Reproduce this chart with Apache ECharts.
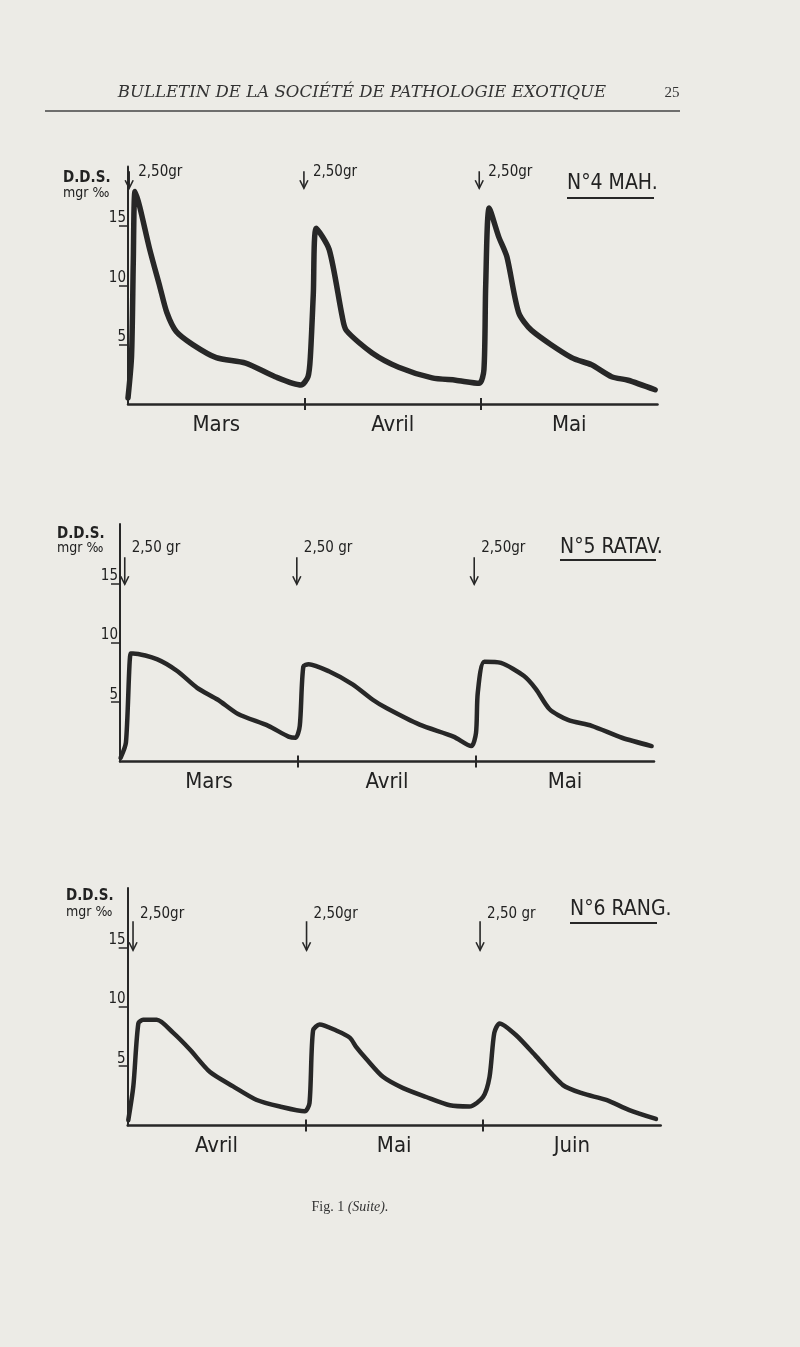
<!DOCTYPE html>
<html>
<head>
<meta charset="utf-8">
<script src="https://cdn.jsdelivr.net/npm/echarts@6/dist/echarts.min.js"></script>
<style>
html,body{margin:0;padding:0;background:#ecebe6;}
#c{width:800px;height:1347px;}
</style>
</head>
<body>
<div id="c"></div>
<script>
// ---------- DATA ----------
const months1 = ['Mars', 'Avril', 'Mai'];
const months2 = ['Mars', 'Avril', 'Mai'];
const months3 = ['Avril', 'Mai', 'Juin'];
const yTicks = [5, 10, 15];
const monthBounds = [30, 60];
const monthCentres = [15, 45, 75];

// chart 1: N°4 MAH. (day, D.D.S. mgr ‰)
const days1 = [0, 0.6, 0.9, 1.2, 2, 3.7, 5.4, 6.6, 8.2, 11, 15, 20, 25, 29.4, 30.6, 31.0, 31.5, 32.0, 34.2, 36.4, 37.1, 41.5, 46, 51.7, 55.7, 59.7, 60.5, 60.8, 61.4, 63, 64.4, 66.4, 68.6, 75.4, 78.8, 82.2, 85, 89.6];
const dds1  = [0.5, 4, 12, 17.9, 16.6, 13, 9.9, 7.7, 6.1, 5.0, 3.9, 3.45, 2.3, 1.6, 2.3, 4, 9.3, 14.8, 13, 7.4, 6.2, 4.3, 3.1, 2.2, 2.0, 1.75, 2.9, 10, 16.5, 14.1, 12.4, 7.7, 6.2, 3.9, 3.3, 2.3, 2.0, 1.2];
// chart 2: N°5 RATAV.
const days2 = [0.1, 1, 1.8, 2.2, 6.3, 9.7, 13, 16.5, 19.9, 25, 28.4, 29.6, 30.3, 30.9, 31.8, 35.2, 39.2, 42.6, 44.9, 50.5, 56.2, 59.2, 60.0, 60.3, 61.4, 64.2, 68.1, 70.1, 72.4, 75.5, 79.5, 84.6, 89.6];
const dds2  = [0.3, 1.6, 9.1, 9.1, 8.6, 7.6, 6.2, 5.2, 4.0, 3.0, 2.1, 2.0, 3.0, 8.0, 8.2, 7.6, 6.5, 5.2, 4.5, 3.1, 2.1, 1.3, 2.4, 5.8, 8.4, 8.3, 7.2, 6.1, 4.4, 3.5, 3.0, 2.0, 1.3];
// chart 3: N°6 RANG.
const days3 = [0.1, 0.95, 1.8, 2.6, 4.9, 7.7, 10.5, 13.9, 17.8, 21.8, 25.7, 29.9, 30.7, 31.3, 32.4, 35.2, 37.5, 38.6, 40.3, 43.1, 46.5, 50.4, 54.4, 57.7, 60, 61.1, 61.9, 62.8, 65.6, 69, 73.5, 76.8, 80.8, 84.7, 89.2];
const dds3  = [0.45, 3.3, 8.6, 8.9, 8.9, 7.8, 6.4, 4.5, 3.3, 2.15, 1.6, 1.2, 1.9, 8.0, 8.5, 8.0, 7.4, 6.6, 5.6, 4.1, 3.15, 2.4, 1.7, 1.6, 2.4, 4.1, 7.8, 8.6, 7.6, 5.8, 3.4, 2.7, 2.15, 1.3, 0.55];

// doses (arrows)
const doseDays1 = [0.2, 29.9, 59.7];
const doseDays2 = [0.8, 29.8, 59.7];
const doseDays3 = [0.9, 30.2, 59.5];
const doseText1 = ['2,50gr', '2,50gr', '2,50gr'];
const doseText2 = ['2,50 gr', '2,50 gr', '2,50gr'];
const doseText3 = ['2,50gr', '2,50gr', '2,50 gr'];

// ---------- STYLE ----------
const INK = '#272727';
const HAND = "'Liberation Sans Narrow','DejaVu Sans Condensed','Roboto Condensed',sans-serif";

const grids = [
  {left: 128, top: 166.5, width: 529.5, height: 237.5},
  {left: 120, top: 524, width: 534, height: 237.5},
  {left: 127.7, top: 888, width: 533, height: 237.5}
];
const arrowCfg = [
  {top: 19.6, len: 17, dx: 9, dy: 1},
  {top: 17.2, len: 27, dx: 7, dy: -9},
  {top: 17.2, len: 29, dx: 7, dy: -7}
];

function pairs(xs, ys) { return xs.map((x, i) => [x, ys[i]]); }

const monthSets = [months1, months2, months3];
const doseSets = [[doseDays1, doseText1], [doseDays2, doseText2], [doseDays3, doseText3]];
const lineSets = [pairs(days1, dds1), pairs(days2, dds2), pairs(days3, dds3)];
const lineWidths = [5.5, 4.5, 4.5];

const xAxes = [], yAxes = [], series = [];
for (let g = 0; g < 3; g++) {
  const ms = monthSets[g];
  xAxes.push({
    type: 'value', gridIndex: g, min: 0, max: 90, position: 'bottom',
    axisLine: {show: true, lineStyle: {color: INK, width: 2.5}},
    axisTick: {show: true, customValues: monthBounds, length: 6, lineStyle: {color: INK, width: 2}},
    axisLabel: {show: true, customValues: monthCentres, margin: 10,
      formatter: v => ms[monthCentres.indexOf(v)] || '',
      color: '#222', fontFamily: HAND, fontSize: 22},
    splitLine: {show: false}
  });
  xAxes.push({
    type: 'value', gridIndex: g, min: 0, max: 90, position: 'bottom',
    axisLine: {show: false},
    axisTick: {show: true, inside: true, customValues: monthBounds, length: 6, lineStyle: {color: INK, width: 2}},
    axisLabel: {show: false},
    splitLine: {show: false}
  });
  yAxes.push({
    type: 'value', gridIndex: g, min: 0, max: 20,
    axisLine: {show: true, lineStyle: {color: INK, width: 2}},
    axisTick: {show: true, customValues: yTicks, length: 9, lineStyle: {color: INK, width: 1.5}},
    axisLabel: {show: true, customValues: yTicks, margin: 2, verticalAlign: 'bottom',
      color: '#222', fontFamily: HAND, fontSize: 15},
    splitLine: {show: false}
  });
  series.push({
    type: 'line', xAxisIndex: 2 * g, yAxisIndex: g,
    data: lineSets[g], showSymbol: false, smooth: 0.25,
    lineStyle: {color: INK, width: lineWidths[g], cap: 'round', join: 'round'},
    silent: true, animation: false
  });
  const cfg = arrowCfg[g];
  const [dd, dt] = doseSets[g];
  series.push({
    type: 'custom', xAxisIndex: 2 * g, yAxisIndex: g,
    data: dd.map((d, i) => [d, cfg.top, i]),
    silent: true, animation: false,
    renderItem: function (params, api) {
      const p = api.coord([api.value(0), api.value(1)]);
      const x = p[0], y = p[1], yb = y + cfg.len;
      return {
        type: 'group',
        children: [
          {type: 'line', shape: {x1: x, y1: y, x2: x, y2: yb}, style: {stroke: INK, lineWidth: 1.6}},
          {type: 'polyline', shape: {points: [[x - 4, yb - 8], [x, yb], [x + 4, yb - 8]]}, style: {stroke: INK, lineWidth: 1.6, fill: null}},
          {type: 'text', x: x + cfg.dx, y: y + cfg.dy,
            style: {text: dt[api.value(2)], fill: '#222', font: '15px ' + HAND, textAlign: 'left', textVerticalAlign: 'middle'}}
        ]
      };
    }
  });
}

const titles = [
  {t: 'N°4 MAH.', x: 567, y: 184, ux1: 567, ux2: 654, uy: 198, ddsY: 178, mgrY: 193, lx: 63},
  {t: 'N°5 RATAV.', x: 560, y: 548, ux1: 560, ux2: 656, uy: 560, ddsY: 534, mgrY: 548, lx: 57},
  {t: 'N°6 RANG.', x: 570, y: 910, ux1: 570, ux2: 657, uy: 923, ddsY: 896, mgrY: 912, lx: 66}
];
const graphic = [
  {type: 'text', x: 362, y: 93, style: {text: 'BULLETIN DE LA SOCIÉTÉ DE PATHOLOGIE EXOTIQUE', font: 'italic 16.6px "DejaVu Serif", "Liberation Serif", serif', fill: '#333', textAlign: 'center', textVerticalAlign: 'middle'}},
  {type: 'text', x: 672, y: 93, style: {text: '25', font: '15px "Liberation Serif", serif', fill: '#333', textAlign: 'center', textVerticalAlign: 'middle'}},
  {type: 'line', shape: {x1: 45, y1: 111, x2: 680, y2: 111}, style: {stroke: '#444', lineWidth: 1.3}},
  {type: 'text', x: 350, y: 1207, style: {
    text: '{n|Fig. 1 }{i|(Suite).}', textAlign: 'center', textVerticalAlign: 'middle',
    rich: {n: {font: '14px "Liberation Serif", serif', fill: '#333'}, i: {font: 'italic 14px "Liberation Serif", serif', fill: '#333'}}}}
];
titles.forEach(t => {
  graphic.push({type: 'text', x: t.x, y: t.y, style: {text: t.t, font: '21px ' + HAND, fill: '#222', textAlign: 'left', textVerticalAlign: 'middle'}});
  graphic.push({type: 'line', shape: {x1: t.ux1, y1: t.uy, x2: t.ux2, y2: t.uy}, style: {stroke: INK, lineWidth: 2}});
  graphic.push({type: 'text', x: t.lx, y: t.ddsY, style: {text: 'D.D.S.', font: 'bold 15px ' + HAND, fill: '#222', textAlign: 'left', textVerticalAlign: 'middle'}});
  graphic.push({type: 'text', x: t.lx, y: t.mgrY, style: {text: 'mgr ‰', font: '14px ' + HAND, fill: '#222', textAlign: 'left', textVerticalAlign: 'middle'}});
});

const chart = echarts.init(document.getElementById('c'), null, {renderer: 'canvas'});
chart.setOption({
  backgroundColor: '#ecebe6',
  animation: false,
  grid: grids,
  xAxis: xAxes,
  yAxis: yAxes,
  series: series,
  graphic: graphic
});
</script>
</body>
</html>
